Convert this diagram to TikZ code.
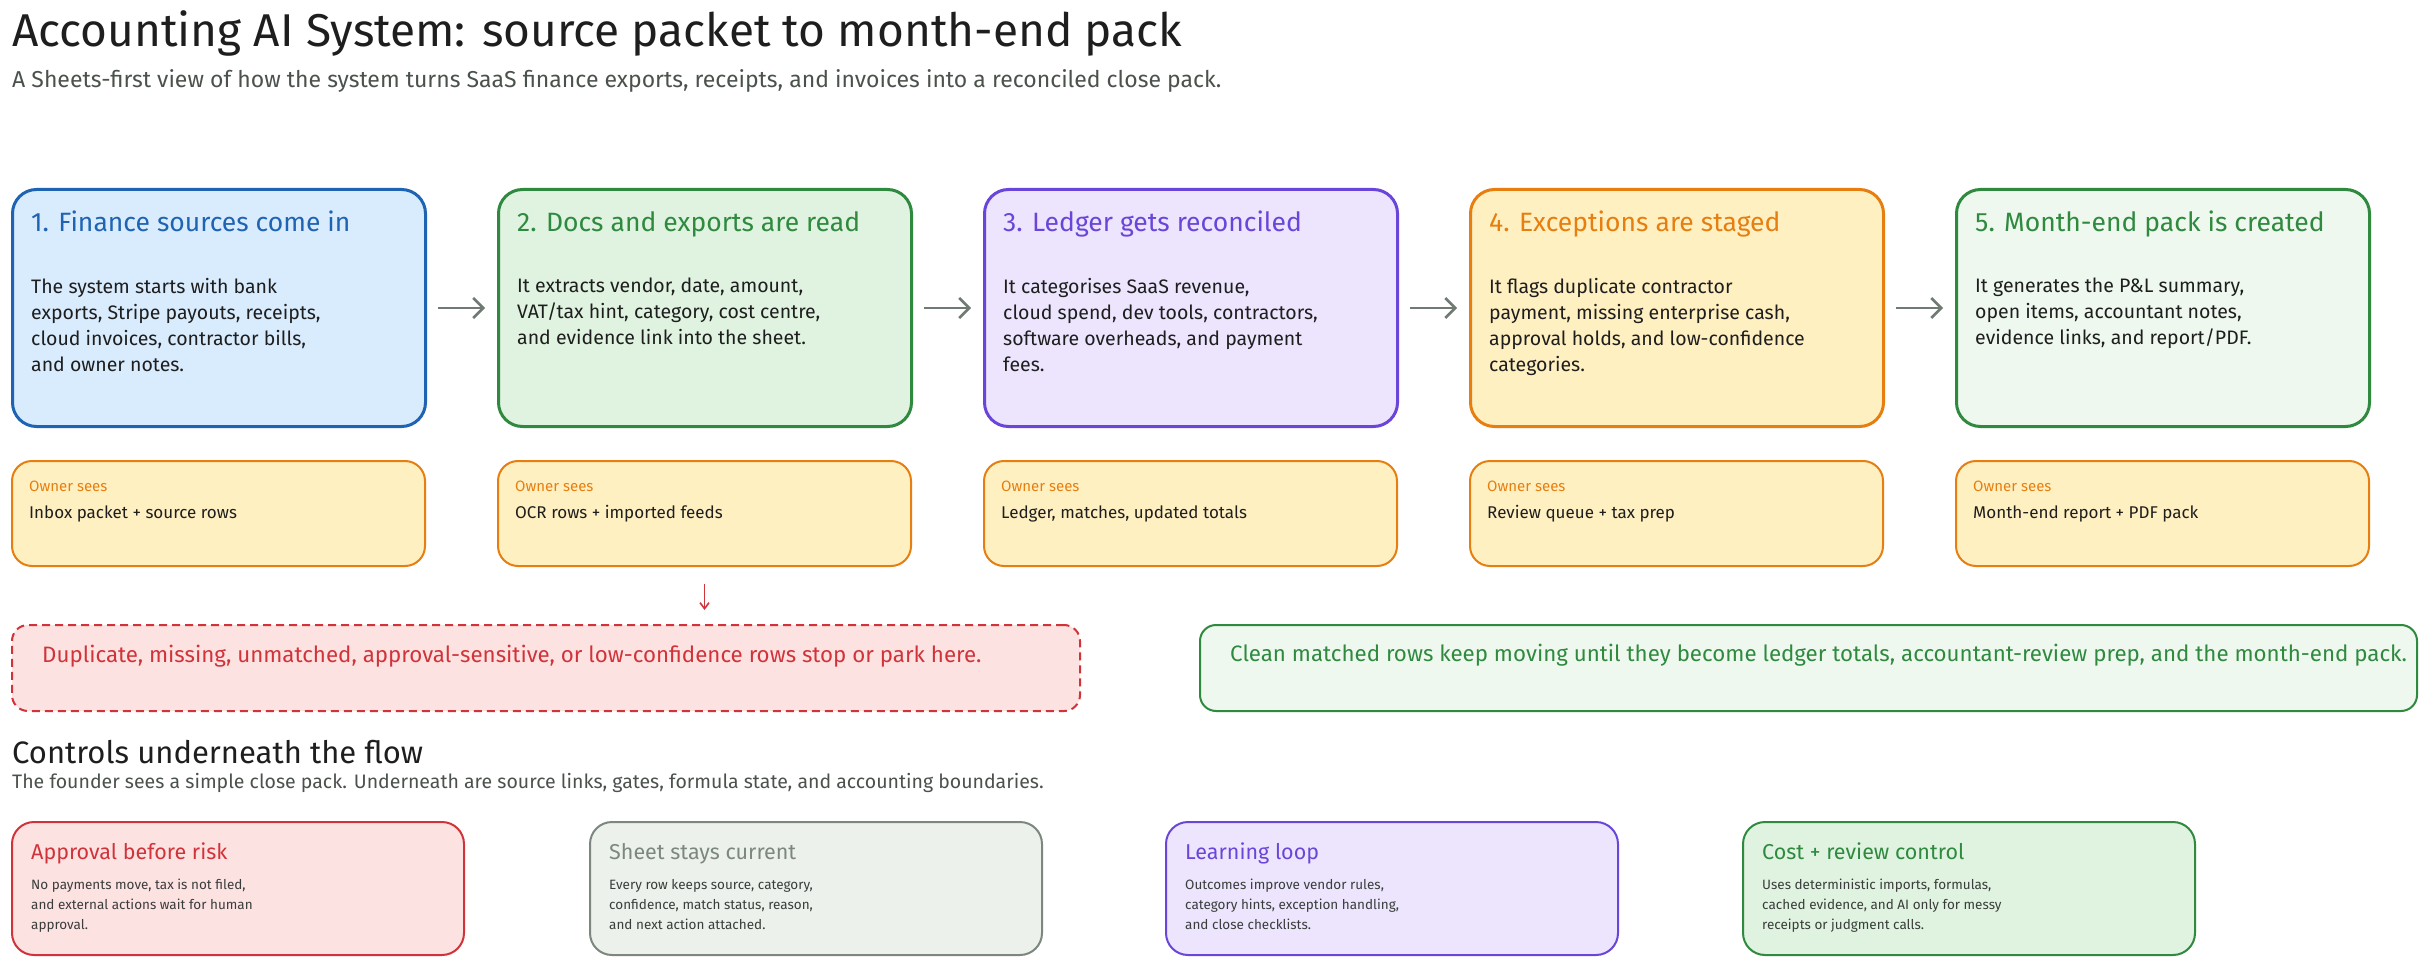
\documentclass[tikz,border=0pt]{standalone}
\usepackage{fontspec}
\setmainfont{Fira Sans}
\usetikzlibrary{arrows.meta}
\definecolor{ink}{HTML}{1E1E1E}
\definecolor{subg}{HTML}{4B524C}
\definecolor{bodyg}{HTML}{3A3D3B}
\definecolor{arrg}{HTML}{6F7A73}
\definecolor{blueB}{HTML}{1F63B3}
\definecolor{blueF}{HTML}{D9ECFD}
\definecolor{greenB}{HTML}{2F8A3F}
\definecolor{greenF}{HTML}{DFF3E0}
\definecolor{greenL}{HTML}{EEF8EF}
\definecolor{purpB}{HTML}{6A45D9}
\definecolor{purpF}{HTML}{ECE5FD}
\definecolor{orgB}{HTML}{E67E10}
\definecolor{orgF}{HTML}{FFF0C2}
\definecolor{redB}{HTML}{D0343A}
\definecolor{redF}{HTML}{FDE2E2}
\definecolor{grayB}{HTML}{7B877F}
\definecolor{grayF}{HTML}{EDF1EC}
\begin{document}
\begin{tikzpicture}[x=1pt,y=-1pt,
  bigbox/.style={draw, rounded corners=24pt, line width=3pt, minimum width=413pt, minimum height=237pt, anchor=north west, inner sep=0pt},
  ownbox/.style={draw=orgB, fill=orgF, rounded corners=20pt, line width=2pt, minimum width=413pt, minimum height=105pt, anchor=north west, inner sep=0pt},
  ctlbox/.style={draw, rounded corners=22pt, line width=2pt, minimum width=452pt, minimum height=133pt, anchor=north west, inner sep=0pt},
  wide/.style={draw, rounded corners=16pt, line width=2pt, anchor=north west, inner sep=0pt, minimum height=86pt},
  ttl/.style={anchor=base west, inner sep=0pt, font=\fontsize{26.5}{30}\selectfont},
  body/.style={anchor=north west, inner sep=0pt, align=left, text=ink, font=\fontsize{19.5}{26}\selectfont},
  olab/.style={anchor=base west, inner sep=0pt, text=orgB, font=\fontsize{15}{18}\selectfont},
  otxt/.style={anchor=base west, inner sep=0pt, text=ink, font=\fontsize{17}{20}\selectfont},
  cttl/.style={anchor=base west, inner sep=0pt, font=\fontsize{21.5}{24}\selectfont},
  cbody/.style={anchor=north west, inner sep=0pt, align=left, text=bodyg, font=\fontsize{13.5}{20}\selectfont},
  flowarrow/.style={draw=arrg, line width=2.5pt, -{Straight Barb[length=10pt,width=20pt]}, shorten <=11pt, shorten >=12pt}
]
\useasboundingbox[fill=white] (0,0) rectangle (2435,965);

% header
\node[anchor=base west, inner sep=0pt, text=ink, font=\fontsize{46}{52}\selectfont] (title) at (12,47) {Accounting AI System: source packet to month-end pack};
\node[anchor=base west, inner sep=0pt, text=subg, font=\fontsize{23}{27}\selectfont] (subtitle) at (12,88) {A Sheets-first view of how the system turns SaaS finance exports, receipts, and invoices into a reconciled close pack.};

% main boxes
\node[bigbox, draw=blueB, fill=blueF] (b1) at (11,188) {};
\node[bigbox, draw=greenB, fill=greenF] (b2) at (497,188) {};
\node[bigbox, draw=purpB, fill=purpF] (b3) at (983,188) {};
\node[bigbox, draw=orgB, fill=orgF] (b4) at (1469,188) {};
\node[bigbox, draw=greenB, fill=greenL] (b5) at (1955,188) {};

\node[ttl, text=blueB] (t1) at (31,232) {1. Finance sources come in};
\node[ttl, text=greenB] (t2) at (517,232) {2. Docs and exports are read};
\node[ttl, text=purpB] (t3) at (1003,232) {3. Ledger gets reconciled};
\node[ttl, text=orgB] (t4) at (1489,232) {4. Exceptions are staged};
\node[ttl, text=greenB] (t5) at (1975,232) {5. Month-end pack is created};

\node[body] (d1) at (31,278) {The system starts with bank\\exports, Stripe payouts, receipts,\\cloud invoices, contractor bills,\\and owner notes.};
\node[body] (d2) at (517,278) {It extracts vendor, date, amount,\\VAT/tax hint, category, cost centre,\\and evidence link into the sheet.};
\node[body] (d3) at (1003,278) {It categorises SaaS revenue,\\cloud spend, dev tools, contractors,\\software overheads, and payment\\fees.};
\node[body] (d4) at (1489,278) {It flags duplicate contractor\\payment, missing enterprise cash,\\approval holds, and low-confidence\\categories.};
\node[body] (d5) at (1975,278) {It generates the P\&L summary,\\open items, accountant notes,\\evidence links, and report/PDF.};

\draw[flowarrow] (b1) -- (b2);
\draw[flowarrow] (b2) -- (b3);
\draw[flowarrow] (b3) -- (b4);
\draw[flowarrow] (b4) -- (b5);

% owner sees
\node[ownbox] (o1) at (11,460) {};
\node[ownbox] (o2) at (497,460) {};
\node[ownbox] (o3) at (983,460) {};
\node[ownbox] (o4) at (1469,460) {};
\node[ownbox] (o5) at (1955,460) {};
\foreach \n/\x/\s in {1/29/Inbox packet + source rows, 2/515/OCR rows + imported feeds, 3/1001/{Ledger, matches, updated totals}, 4/1487/Review queue + tax prep, 5/1973/Month-end report + PDF pack}{
  \node[olab] (ol\n) at (\x,491) {Owner sees};
  \node[otxt] (ot\n) at (\x,518) {\s};
}

% stop / continue
\node[wide, draw=redB, fill=redF, dashed, dash pattern=on 8pt off 5pt, minimum width=1068pt] (stop) at (11,624) {};
\node[wide, draw=greenB, fill=greenL, minimum width=1217pt] (go) at (1199,624) {};
\node[anchor=base west, inner sep=0pt, text=redB, font=\fontsize{22.3}{26}\selectfont] (stopt) at (42,662) {Duplicate, missing, unmatched, approval-sensitive, or low-confidence rows stop or park here.};
\node[anchor=base west, inner sep=0pt, text=greenB, font=\fontsize{22.3}{26}\selectfont] (got) at (1230,661) {Clean matched rows keep moving until they become ledger totals, accountant-review prep, and the month-end pack.};
\draw[draw=redB, line width=1.6pt, -{Straight Barb[length=6pt,width=9pt]}, shorten <=17pt, shorten >=14pt] (o2.south) -- (o2.south |- stop.north);

% controls
\node[anchor=base west, inner sep=0pt, text=ink, font=\fontsize{31}{35}\selectfont] (ctitle) at (12,763) {Controls underneath the flow};
\node[anchor=base west, inner sep=0pt, text=subg, font=\fontsize{19.5}{23}\selectfont] (csub) at (12,788) {The founder sees a simple close pack. Underneath are source links, gates, formula state, and accounting boundaries.};

\node[ctlbox, draw=redB, fill=redF] (c1) at (11,821) {};
\node[ctlbox, draw=grayB, fill=grayF] (c2) at (589,821) {};
\node[ctlbox, draw=purpB, fill=purpF] (c3) at (1165,821) {};
\node[ctlbox, draw=greenB, fill=greenF] (c4) at (1742,821) {};

\node[cttl, text=redB] (ct1) at (31,859) {Approval before risk};
\node[cttl, text=grayB] (ct2) at (609,859) {Sheet stays current};
\node[cttl, text=purpB] (ct3) at (1185,859) {Learning loop};
\node[cttl, text=greenB] (ct4) at (1762,859) {Cost + review control};

\node[cbody] (cb1) at (31,879) {No payments move, tax is not filed,\\and external actions wait for human\\approval.};
\node[cbody] (cb2) at (609,879) {Every row keeps source, category,\\confidence, match status, reason,\\and next action attached.};
\node[cbody] (cb3) at (1185,879) {Outcomes improve vendor rules,\\category hints, exception handling,\\and close checklists.};
\node[cbody] (cb4) at (1762,879) {Uses deterministic imports, formulas,\\cached evidence, and AI only for messy\\receipts or judgment calls.};
\end{tikzpicture}
\end{document}
